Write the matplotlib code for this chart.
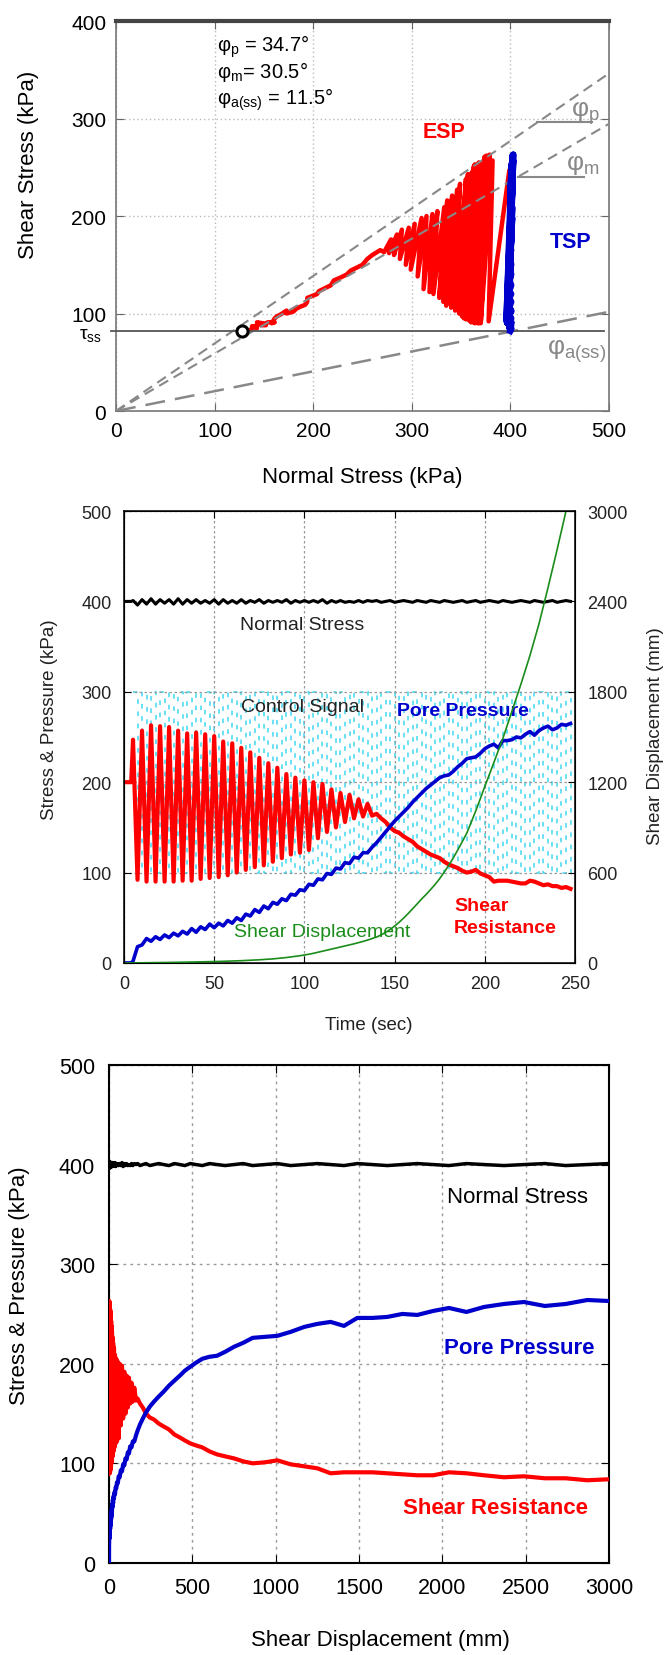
import numpy as np
import matplotlib
matplotlib.use('Agg')
import matplotlib.pyplot as plt

plt.rcParams['font.family'] = ['Liberation Sans', 'DejaVu Sans']
plt.rcParams['mathtext.fontset'] = 'custom'
plt.rcParams['mathtext.rm'] = 'Liberation Sans'
plt.rcParams['mathtext.it'] = 'Liberation Sans:italic'
plt.rcParams['mathtext.bf'] = 'Liberation Sans:bold'

# ---- datos del ensayo (tiempo s, esfuerzos kPa, desplazamiento mm)
# tramo inicial (antes de ciclar)
t_ini = [0, 2, 4]
tau_ini = [200, 200, 200]
u_ini = [0, 0, 0]
sn_ini = [400, 400, 400]
d_ini = [0, 0, 0]

# tramo ciclico: picos y valles
t_peak = [5, 10, 15, 20, 25, 30, 35, 40, 45, 50, 55, 60, 65, 70, 75, 80, 85, 90,
          95, 100, 105, 110, 115, 120, 125, 130, 135]
t_trough = [7.5, 12.5, 17.5, 22.5, 27.5, 32.5, 37.5, 42.5, 47.5, 52.5, 57.5, 62.5,
            67.5, 72.5, 77.5, 82.5, 87.5, 92.5, 97.5, 102.5, 107.5, 112.5, 117.5,
            122.5, 127.5, 132.5, 137.5]
tau_peak = [247, 257, 263, 262, 261, 257, 254, 255, 253, 251, 245, 243, 238, 233,
            227, 221, 216, 209, 205, 202, 200, 198, 192, 188, 186, 181, 176]
tau_trough = [92, 90, 90, 90, 90, 91, 91, 93, 94, 95, 97, 100, 103, 106, 108, 112,
              116, 120, 122, 125, 138, 145, 150, 156, 160, 162, 163]
u_peak = [2, 20, 24, 26, 28, 30, 32, 34, 37, 39, 41, 44, 47, 52, 56, 60, 65, 69,
          75, 80, 86, 92, 98, 104, 110, 116, 122]
u_trough = [18, 27, 29, 31, 33, 35, 38, 40, 43, 44, 47, 50, 54, 59, 63, 67, 71, 76,
            81, 87, 93, 99, 105, 111, 117, 122, 128]
sn_peak = [401, 402, 403, 402, 402, 403, 402, 402, 401, 402, 402, 401, 402, 401,
           402, 401, 401, 402, 401, 401, 401, 402, 401, 401, 400, 401, 401]
sn_trough = [396, 397, 397, 398, 397, 397, 398, 398, 398, 397, 398, 398, 398, 399,
             398, 399, 399, 398, 399, 399, 399, 398, 399, 399, 399, 399, 400]
d_peak = [0.3, 1, 1.8, 2.6, 3.5, 4.5, 5.6, 6.8, 8, 9.4, 11, 13, 15, 18, 21, 25, 30,
          36, 44, 53, 64, 78, 92, 106, 120, 135, 152]
d_trough = [0.6, 1.4, 2.2, 3, 4, 5, 6.2, 7.4, 8.7, 10, 12, 14, 16.5, 19.5, 23, 27,
            33, 40, 48, 58, 71, 85, 99, 113, 127, 143, 162]

# tramo posterior (flujo)
t_late = [140, 142.5, 145, 147.5, 150, 152.5, 155, 157.5, 160, 162.5, 165, 167.5,
          170, 172.5, 175, 177.5, 180, 182.5, 185, 187.5, 190, 192.5, 195, 197.5,
          200, 202.5, 205, 207.5, 210, 212.5, 215, 217.5, 220, 222.5, 225, 227.5,
          230, 232.5, 235, 237.5, 240, 242.5, 245, 247.5]
tau_late = [165, 160, 156, 150, 146, 144, 140, 137, 134, 129, 126, 123, 120, 118,
            116, 112, 109, 107, 105, 102, 100, 101, 103, 99, 97, 95, 90, 91, 91, 91,
            90, 89, 88, 88, 91, 90, 88, 86, 87, 85, 85, 83, 84, 82]
u_late = [133, 139, 145, 151, 157, 162, 167, 172, 178, 183, 188, 193, 197, 201, 205,
          207, 208, 212, 217, 221, 226, 227, 228, 232, 237, 240, 242, 238, 246, 246,
          247, 250, 249, 253, 256, 252, 257, 260, 262, 258, 260, 264, 263, 265]
sn_late = [401, 399, 400, 401, 399, 400, 401, 400, 399, 401, 400, 399, 401, 400, 399,
           401, 400, 399, 400, 401, 399, 400, 401, 399, 400, 401, 400, 399, 401, 400,
           399, 400, 401, 400, 399, 401, 400, 399, 400, 401, 399, 400, 401, 400]
d_late = [172, 186, 203, 222, 245, 270, 298, 328, 360, 392, 425, 455, 488, 522, 560,
          603, 648, 697, 750, 805, 862, 935, 1010, 1090, 1172, 1250, 1330, 1410, 1490,
          1580, 1670, 1760, 1850, 1945, 2040, 2145, 2250, 2370, 2490, 2615, 2740,
          2870, 3000, 3130]

ctrl_levels = [300, 100]   # senal de control (kPa)

# angulos de friccion
phi_p, phi_m, phi_ass = 34.7, 30.5, 11.5
tau_ss = 82


def intercalar(a, b):
    return list(np.column_stack([a, b]).ravel())


t = np.array(t_ini + intercalar(t_peak, t_trough) + t_late, dtype=float)
tau = np.array(tau_ini + intercalar(tau_peak, tau_trough) + tau_late, dtype=float)
u = np.array(u_ini + intercalar(u_peak, u_trough) + u_late, dtype=float)
sn = np.array(sn_ini + intercalar(sn_peak, sn_trough) + sn_late, dtype=float)
d = np.array(d_ini + intercalar(d_peak, d_trough) + d_late, dtype=float)
t_ctrl = t[3:]
ctrl = np.resize(ctrl_levels, len(t_ctrl))

RED = '#ff0000'
BLUE = '#0000cc'
GREEN = '#1a8c1a'

fig = plt.figure(figsize=(6.67, 16.56), dpi=100)

# ================= Panel 1: trayectorias de esfuerzos
ax1 = fig.add_axes([0.1739, 0.7512, 0.739, 0.2355])
ax1.set_xlim(0, 500)
ax1.set_ylim(0, 400)
ax1.set_xticks([0, 100, 200, 300, 400, 500])
ax1.set_yticks([0, 100, 200, 300, 400])
ax1.grid(color='#bbbbbb', ls=(0, (1, 2)), lw=1)
ax1.tick_params(direction='in', length=6, top=True, right=True, colors='#666666',
                labelcolor='black', labelsize=15, pad=7)
for s in ax1.spines.values():
    s.set_color('#777777')
    s.set_linewidth(1.2)
ax1.spines['top'].set_color('#444444')
ax1.spines['top'].set_linewidth(3)

ax1.plot(sn - u, tau, color=RED, lw=3.2, zorder=2)
ax1.plot(sn, tau, color=BLUE, lw=4.5, zorder=4)

xs = np.array([0, 500])
ax1.plot(xs, xs * np.tan(np.radians(phi_p)), color='#888888', lw=1.5,
         dashes=(5, 3), zorder=3)
ax1.plot(xs, xs * np.tan(np.radians(phi_m)), color='#888888', lw=1.5,
         dashes=(5, 3), zorder=3)
ax1.plot(xs, xs * np.tan(np.radians(phi_ass)), color='#888888', lw=1.8,
         dashes=(8, 4), zorder=3)
ax1.plot([-5, 495], [tau_ss, tau_ss], color='#555555', lw=1.3, clip_on=False, zorder=3)
ax1.plot([128], [tau_ss], 'o', ms=8, mfc='white', mec='black', mew=2.2, zorder=5)

# marcas de angulo
y_mp, y_mm = 296, 240
ax1.plot([y_mp / np.tan(np.radians(phi_p)), 483], [y_mp, y_mp], color='#888888', lw=1.5)
ax1.plot([y_mm / np.tan(np.radians(phi_m)), 475], [y_mm, y_mm], color='#888888', lw=1.5)
ax1.text(462, 307, r'φ$_\mathrm{p}$', color='#888888', fontsize=19, va='center')
ax1.text(456, 253, r'φ$_\mathrm{m}$', color='#888888', fontsize=19, va='center')
ax1.text(437, 62, r'φ$_\mathrm{a(ss)}$', color='#888888', fontsize=19, va='center')

ax1.text(102, 375, r'φ$_\mathrm{p}$ = %.1f°' % phi_p, fontsize=14.5, va='center')
ax1.text(102, 349, r'φ$_\mathrm{m}$= %.1f°' % phi_m, fontsize=14.5, va='center')
ax1.text(102, 320, r'φ$_\mathrm{a(ss)}$ = %.1f°' % phi_ass, fontsize=14.5, va='center')
ax1.text(-14, tau_ss - 4, r'τ$_\mathrm{ss}$', fontsize=14, ha='right', va='center')
ax1.text(333, 287, 'ESP', color=RED, fontsize=15.5, fontweight='bold', ha='center',
         va='center')
ax1.text(461, 174, 'TSP', color=BLUE, fontsize=15.5, fontweight='bold', ha='center',
         va='center')

fig.text(0.042, 1 - 165 / 1656, 'Shear Stress (kPa)', rotation=90, fontsize=16,
         ha='center', va='center')
fig.text(0.543, 1 - 478 / 1656, 'Normal Stress (kPa)', fontsize=16, ha='center',
         va='center')

# ================= Panel 2: series de tiempo
ax2 = fig.add_axes([0.1859, 0.4179, 0.6762, 0.2729])
ax2.set_xlim(0, 250)
ax2.set_ylim(0, 500)
ax2.set_xticks([0, 50, 100, 150, 200, 250])
ax2.set_yticks([0, 100, 200, 300, 400, 500])
ax2.grid(color='#999999', ls=(0, (2, 2)), lw=0.9)
ax2.tick_params(direction='in', length=5, top=True, labelsize=13, pad=9,
                labelcolor='#222222')
for s in ax2.spines.values():
    s.set_linewidth(1.1)

ax2.plot(t_ctrl, ctrl, color='#3fd8f0', lw=1.1, ls=(0, (3, 5)), drawstyle='steps-post',
         zorder=1)
ax2.plot(t, sn, color='black', lw=2.2, zorder=2)
ax2.plot(t, tau, color=RED, lw=3, zorder=3)
ax2.plot(t, u, color=BLUE, lw=2.6, zorder=4)

ax2r = ax2.twinx()
ax2r.set_ylim(0, 3000)
ax2r.set_yticks([0, 600, 1200, 1800, 2400, 3000])
ax2r.tick_params(direction='in', length=5, labelsize=13, pad=9, labelcolor='#222222')
ax2r.plot(t, d, color=GREEN, lw=1.2)

ax2.text(99, 374, 'Normal Stress', fontsize=14, color='#222222', ha='center',
         va='center')
ax2.text(99, 284, 'Control Signal', fontsize=14, color='#222222', ha='center',
         va='center')
ax2.text(188, 279, 'Pore Pressure', fontsize=14, color=BLUE, fontweight='bold',
         ha='center', va='center')
ax2.text(110, 35, 'Shear Displacement', fontsize=14, color=GREEN, ha='center',
         va='center')
ax2.text(183, 64, 'Shear', fontsize=14, color=RED, fontweight='bold', va='center')
ax2.text(183, 39, 'Resistance', fontsize=14, color=RED, fontweight='bold', va='center')

fig.text(0.0735, 1 - 720 / 1656, 'Stress & Pressure (kPa)', rotation=90,
         fontsize=13.5, ha='center', va='center', color='#222222')
fig.text(0.983, 1 - 736 / 1656, 'Shear Displacement (mm)', rotation=90,
         fontsize=13.5, ha='center', va='center', color='#222222')
fig.text(0.553, 1 - 1026 / 1656, 'Time (sec)', fontsize=13.5, ha='center',
         va='center', color='#222222')

# ================= Panel 3: contra desplazamiento
ax3 = fig.add_axes([0.1634, 0.0556, 0.7496, 0.3007])
ax3.set_xlim(0, 3000)
ax3.set_ylim(0, 500)
ax3.set_xticks([0, 500, 1000, 1500, 2000, 2500, 3000])
ax3.set_yticks([0, 100, 200, 300, 400, 500])
ax3.grid(color='#999999', ls=(0, (2, 3)), lw=1)
ax3.tick_params(direction='in', length=6, top=True, right=True, labelsize=15.5,
                pad=10)
for s in ax3.spines.values():
    s.set_linewidth(1.5)

ax3.plot(d, sn, color='black', lw=2.5, zorder=2)
ax3.plot(d, tau, color=RED, lw=3, zorder=3)
ax3.plot(d, u, color=BLUE, lw=3, zorder=4)

ax3.text(2450, 368, 'Normal Stress', fontsize=16, ha='center', va='center')
ax3.text(2460, 216, 'Pore Pressure', fontsize=16, color=BLUE, fontweight='bold',
         ha='center', va='center')
ax3.text(2320, 56, 'Shear Resistance', fontsize=16, color=RED, fontweight='bold',
         ha='center', va='center')

fig.text(0.0285, 1 - 1286 / 1656, 'Stress & Pressure (kPa)', rotation=90, fontsize=16,
         ha='center', va='center')
fig.text(0.57, 1 - 1641 / 1656, 'Shear Displacement (mm)', fontsize=16, ha='center',
         va='center')

fig.savefig('out.png', dpi=100)
